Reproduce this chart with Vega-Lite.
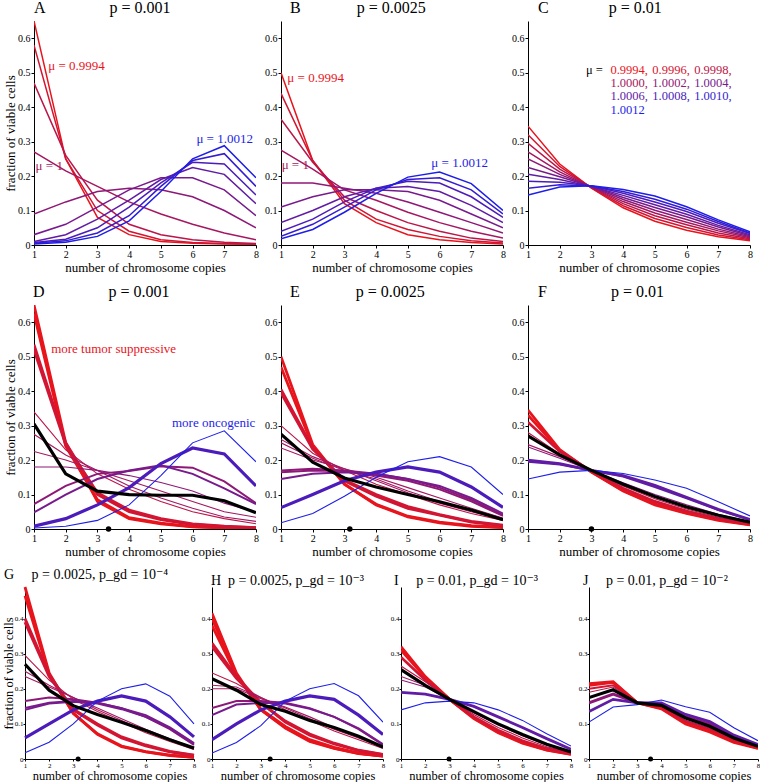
{
"$schema":"https://vega.github.io/schema/vega-lite/v6.json",
"padding":{"left":2,"top":0,"right":0,"bottom":0},
"config":{"font":"Liberation Serif, Times New Roman, DejaVu Serif, serif","view":{"stroke":null},
"axis":{"labelFont":"Liberation Serif, Times New Roman, DejaVu Serif, serif","titleFont":"Liberation Serif, Times New Roman, DejaVu Serif, serif","labelFontSize":10,"titleFontSize":13,"titleFontWeight":"normal","domainColor":"#000","tickColor":"#000","labelColor":"#000","titleColor":"#000","grid":false,"tickSize":3,"labelPadding":1,"titlePadding":2,"labelOverlap":false,"labelFlush":false},
"title":{"font":"Liberation Serif, Times New Roman, DejaVu Serif, serif","fontSize":16,"fontWeight":"normal","anchor":"start","frame":"group","offset":5,"color":"#000"},
"text":{"font":"Liberation Serif, Times New Roman, DejaVu Serif, serif"}},
"datasets":{
"series":[
{"s":"A1","p":"A","c":"m1","w":"n"},{"s":"A2","p":"A","c":"m2","w":"n"},{"s":"A3","p":"A","c":"m3","w":"n"},{"s":"A4","p":"A","c":"m4","w":"n"},{"s":"A5","p":"A","c":"m5","w":"n"},{"s":"A6","p":"A","c":"m6","w":"n"},{"s":"A7","p":"A","c":"m7","w":"n"},{"s":"A8","p":"A","c":"m8","w":"n"},{"s":"A9","p":"A","c":"m9","w":"n"},{"s":"A10","p":"A","c":"m10","w":"n"},
{"s":"B1","p":"B","c":"m1","w":"n"},{"s":"B2","p":"B","c":"m2","w":"n"},{"s":"B3","p":"B","c":"m3","w":"n"},{"s":"B4","p":"B","c":"m4","w":"n"},{"s":"B5","p":"B","c":"m5","w":"n"},{"s":"B6","p":"B","c":"m6","w":"n"},{"s":"B7","p":"B","c":"m7","w":"n"},{"s":"B8","p":"B","c":"m8","w":"n"},{"s":"B9","p":"B","c":"m9","w":"n"},{"s":"B10","p":"B","c":"m10","w":"n"},
{"s":"C1","p":"C","c":"m1","w":"n"},{"s":"C2","p":"C","c":"m2","w":"n"},{"s":"C3","p":"C","c":"m3","w":"n"},{"s":"C4","p":"C","c":"m4","w":"n"},{"s":"C5","p":"C","c":"m5","w":"n"},{"s":"C6","p":"C","c":"m6","w":"n"},{"s":"C7","p":"C","c":"m7","w":"n"},{"s":"C8","p":"C","c":"m8","w":"n"},{"s":"C9","p":"C","c":"m9","w":"n"},{"s":"C10","p":"C","c":"m10","w":"n"},
{"s":"D1","p":"D","c":"m1","w":"k"},{"s":"D2","p":"D","c":"m1","w":"k"},{"s":"D3","p":"D","c":"m2","w":"k"},{"s":"D4","p":"D","c":"m2","w":"k"},{"s":"D5","p":"D","c":"m3","w":"t"},{"s":"D6","p":"D","c":"m4","w":"t"},{"s":"D7","p":"D","c":"m4","w":"t"},{"s":"D8","p":"D","c":"m5","w":"t"},{"s":"D9","p":"D","c":"m5","w":"m"},{"s":"D10","p":"D","c":"m6","w":"m"},{"s":"D11","p":"D","c":"m8","w":"x"},{"s":"D12","p":"D","c":"m10","w":"t"},{"s":"D13","p":"D","c":"bk","w":"x"},
{"s":"E1","p":"E","c":"m1","w":"k"},{"s":"E2","p":"E","c":"m1","w":"k"},{"s":"E3","p":"E","c":"m2","w":"k"},{"s":"E4","p":"E","c":"m2","w":"k"},{"s":"E5","p":"E","c":"m3","w":"t"},{"s":"E6","p":"E","c":"m4","w":"t"},{"s":"E7","p":"E","c":"m4","w":"t"},{"s":"E8","p":"E","c":"m4","w":"t"},{"s":"E9","p":"E","c":"m5","w":"m"},{"s":"E10","p":"E","c":"m5","w":"m"},{"s":"E11","p":"E","c":"m6","w":"m"},{"s":"E12","p":"E","c":"m8","w":"x"},{"s":"E13","p":"E","c":"m10","w":"t"},{"s":"E14","p":"E","c":"bk","w":"x"},
{"s":"F1","p":"F","c":"m1","w":"k"},{"s":"F2","p":"F","c":"m1","w":"k"},{"s":"F3","p":"F","c":"m2","w":"k"},{"s":"F4","p":"F","c":"m3","w":"t"},{"s":"F5","p":"F","c":"m4","w":"t"},{"s":"F6","p":"F","c":"m5","w":"t"},{"s":"F8","p":"F","c":"m7","w":"k"},{"s":"F9","p":"F","c":"m7","w":"m"},{"s":"F10","p":"F","c":"m10","w":"t"},{"s":"F7","p":"F","c":"bk","w":"x"},
{"s":"G1","p":"G","c":"m1","w":"k"},{"s":"G2","p":"G","c":"m1","w":"k"},{"s":"G3","p":"G","c":"m2","w":"k"},{"s":"G4","p":"G","c":"m2","w":"k"},{"s":"G5","p":"G","c":"m3","w":"t"},{"s":"G6","p":"G","c":"m4","w":"t"},{"s":"G7","p":"G","c":"m4","w":"t"},{"s":"G8","p":"G","c":"m5","w":"m"},{"s":"G9","p":"G","c":"m6","w":"m"},{"s":"G10","p":"G","c":"m6","w":"m"},{"s":"G11","p":"G","c":"m8","w":"x"},{"s":"G12","p":"G","c":"m10","w":"t"},{"s":"G13","p":"G","c":"bk","w":"x"},
{"s":"H1","p":"H","c":"m1","w":"k"},{"s":"H2","p":"H","c":"m1","w":"k"},{"s":"H3","p":"H","c":"m1","w":"k"},{"s":"H4","p":"H","c":"m2","w":"k"},{"s":"H5","p":"H","c":"m2","w":"k"},{"s":"H6","p":"H","c":"m3","w":"t"},{"s":"H7","p":"H","c":"m4","w":"t"},{"s":"H8","p":"H","c":"m4","w":"t"},{"s":"H9","p":"H","c":"m5","w":"m"},{"s":"H10","p":"H","c":"m6","w":"m"},{"s":"H11","p":"H","c":"m8","w":"x"},{"s":"H12","p":"H","c":"m10","w":"t"},{"s":"H13","p":"H","c":"bk","w":"x"},
{"s":"I1","p":"I","c":"m1","w":"k"},{"s":"I2","p":"I","c":"m1","w":"k"},{"s":"I3","p":"I","c":"m2","w":"k"},{"s":"I4","p":"I","c":"m3","w":"t"},{"s":"I5","p":"I","c":"m4","w":"t"},{"s":"I6","p":"I","c":"m5","w":"t"},{"s":"I8","p":"I","c":"m7","w":"k"},{"s":"I9","p":"I","c":"m10","w":"t"},{"s":"I7","p":"I","c":"bk","w":"x"},
{"s":"J1","p":"J","c":"m1","w":"k"},{"s":"J2","p":"J","c":"m1","w":"k"},{"s":"J3","p":"J","c":"m2","w":"m"},{"s":"J4","p":"J","c":"m3","w":"t"},{"s":"J6","p":"J","c":"m5","w":"k"},{"s":"J7","p":"J","c":"m7","w":"k"},{"s":"J8","p":"J","c":"m10","w":"t"},{"s":"J5","p":"J","c":"bk","w":"x"}
],
"curves":[
{"s":"A1","x":1,"y":0.65},{"s":"A1","x":2,"y":0.25},{"s":"A1","x":3,"y":0.08},{"s":"A1","x":4,"y":0.03},{"s":"A1","x":5,"y":0.01},{"s":"A1","x":6,"y":0.005},{"s":"A1","x":7,"y":0.003},{"s":"A1","x":8,"y":0.002},
{"s":"A2","x":1,"y":0.58},{"s":"A2","x":2,"y":0.25},{"s":"A2","x":3,"y":0.1},{"s":"A2","x":4,"y":0.04},{"s":"A2","x":5,"y":0.015},{"s":"A2","x":6,"y":0.007},{"s":"A2","x":7,"y":0.004},{"s":"A2","x":8,"y":0.002},
{"s":"A3","x":1,"y":0.47},{"s":"A3","x":2,"y":0.26},{"s":"A3","x":3,"y":0.13},{"s":"A3","x":4,"y":0.06},{"s":"A3","x":5,"y":0.03},{"s":"A3","x":6,"y":0.015},{"s":"A3","x":7,"y":0.008},{"s":"A3","x":8,"y":0.004},
{"s":"A4","x":1,"y":0.27},{"s":"A4","x":2,"y":0.215},{"s":"A4","x":3,"y":0.17},{"s":"A4","x":4,"y":0.125},{"s":"A4","x":5,"y":0.09},{"s":"A4","x":6,"y":0.06},{"s":"A4","x":7,"y":0.035},{"s":"A4","x":8,"y":0.015},
{"s":"A5","x":1,"y":0.09},{"s":"A5","x":2,"y":0.125},{"s":"A5","x":3,"y":0.155},{"s":"A5","x":4,"y":0.165},{"s":"A5","x":5,"y":0.16},{"s":"A5","x":6,"y":0.14},{"s":"A5","x":7,"y":0.1},{"s":"A5","x":8,"y":0.05},
{"s":"A6","x":1,"y":0.03},{"s":"A6","x":2,"y":0.06},{"s":"A6","x":3,"y":0.11},{"s":"A6","x":4,"y":0.16},{"s":"A6","x":5,"y":0.195},{"s":"A6","x":6,"y":0.195},{"s":"A6","x":7,"y":0.16},{"s":"A6","x":8,"y":0.085},
{"s":"A7","x":1,"y":0.01},{"s":"A7","x":2,"y":0.03},{"s":"A7","x":3,"y":0.075},{"s":"A7","x":4,"y":0.13},{"s":"A7","x":5,"y":0.19},{"s":"A7","x":6,"y":0.225},{"s":"A7","x":7,"y":0.205},{"s":"A7","x":8,"y":0.12},
{"s":"A8","x":1,"y":0.007},{"s":"A8","x":2,"y":0.017},{"s":"A8","x":3,"y":0.05},{"s":"A8","x":4,"y":0.11},{"s":"A8","x":5,"y":0.18},{"s":"A8","x":6,"y":0.24},{"s":"A8","x":7,"y":0.235},{"s":"A8","x":8,"y":0.145},
{"s":"A9","x":1,"y":0.005},{"s":"A9","x":2,"y":0.012},{"s":"A9","x":3,"y":0.035},{"s":"A9","x":4,"y":0.085},{"s":"A9","x":5,"y":0.17},{"s":"A9","x":6,"y":0.245},{"s":"A9","x":7,"y":0.265},{"s":"A9","x":8,"y":0.17},
{"s":"A10","x":1,"y":0.003},{"s":"A10","x":2,"y":0.008},{"s":"A10","x":3,"y":0.025},{"s":"A10","x":4,"y":0.07},{"s":"A10","x":5,"y":0.155},{"s":"A10","x":6,"y":0.25},{"s":"A10","x":7,"y":0.288},{"s":"A10","x":8,"y":0.195},
{"s":"B1","x":1,"y":0.5},{"s":"B1","x":2,"y":0.245},{"s":"B1","x":3,"y":0.12},{"s":"B1","x":4,"y":0.065},{"s":"B1","x":5,"y":0.03},{"s":"B1","x":6,"y":0.015},{"s":"B1","x":7,"y":0.007},{"s":"B1","x":8,"y":0.003},
{"s":"B2","x":1,"y":0.44},{"s":"B2","x":2,"y":0.245},{"s":"B2","x":3,"y":0.13},{"s":"B2","x":4,"y":0.075},{"s":"B2","x":5,"y":0.045},{"s":"B2","x":6,"y":0.025},{"s":"B2","x":7,"y":0.012},{"s":"B2","x":8,"y":0.006},
{"s":"B3","x":1,"y":0.365},{"s":"B3","x":2,"y":0.24},{"s":"B3","x":3,"y":0.14},{"s":"B3","x":4,"y":0.1},{"s":"B3","x":5,"y":0.065},{"s":"B3","x":6,"y":0.04},{"s":"B3","x":7,"y":0.02},{"s":"B3","x":8,"y":0.01},
{"s":"B4","x":1,"y":0.275},{"s":"B4","x":2,"y":0.22},{"s":"B4","x":3,"y":0.16},{"s":"B4","x":4,"y":0.13},{"s":"B4","x":5,"y":0.095},{"s":"B4","x":6,"y":0.065},{"s":"B4","x":7,"y":0.04},{"s":"B4","x":8,"y":0.02},
{"s":"B5","x":1,"y":0.18},{"s":"B5","x":2,"y":0.18},{"s":"B5","x":3,"y":0.165},{"s":"B5","x":4,"y":0.15},{"s":"B5","x":5,"y":0.125},{"s":"B5","x":6,"y":0.095},{"s":"B5","x":7,"y":0.065},{"s":"B5","x":8,"y":0.035},
{"s":"B6","x":1,"y":0.11},{"s":"B6","x":2,"y":0.14},{"s":"B6","x":3,"y":0.16},{"s":"B6","x":4,"y":0.16},{"s":"B6","x":5,"y":0.155},{"s":"B6","x":6,"y":0.13},{"s":"B6","x":7,"y":0.09},{"s":"B6","x":8,"y":0.05},
{"s":"B7","x":1,"y":0.065},{"s":"B7","x":2,"y":0.1},{"s":"B7","x":3,"y":0.14},{"s":"B7","x":4,"y":0.165},{"s":"B7","x":5,"y":0.17},{"s":"B7","x":6,"y":0.155},{"s":"B7","x":7,"y":0.115},{"s":"B7","x":8,"y":0.065},
{"s":"B8","x":1,"y":0.04},{"s":"B8","x":2,"y":0.075},{"s":"B8","x":3,"y":0.125},{"s":"B8","x":4,"y":0.165},{"s":"B8","x":5,"y":0.185},{"s":"B8","x":6,"y":0.18},{"s":"B8","x":7,"y":0.14},{"s":"B8","x":8,"y":0.08},
{"s":"B9","x":1,"y":0.025},{"s":"B9","x":2,"y":0.06},{"s":"B9","x":3,"y":0.11},{"s":"B9","x":4,"y":0.16},{"s":"B9","x":5,"y":0.19},{"s":"B9","x":6,"y":0.195},{"s":"B9","x":7,"y":0.16},{"s":"B9","x":8,"y":0.09},
{"s":"B10","x":1,"y":0.018},{"s":"B10","x":2,"y":0.045},{"s":"B10","x":3,"y":0.095},{"s":"B10","x":4,"y":0.15},{"s":"B10","x":5,"y":0.197},{"s":"B10","x":6,"y":0.212},{"s":"B10","x":7,"y":0.178},{"s":"B10","x":8,"y":0.1},
{"s":"C1","x":1,"y":0.345},{"s":"C1","x":2,"y":0.235},{"s":"C1","x":3,"y":0.165},{"s":"C1","x":4,"y":0.108},{"s":"C1","x":5,"y":0.069},{"s":"C1","x":6,"y":0.043},{"s":"C1","x":7,"y":0.024},{"s":"C1","x":8,"y":0.012},
{"s":"C2","x":1,"y":0.32},{"s":"C2","x":2,"y":0.228},{"s":"C2","x":3,"y":0.166},{"s":"C2","x":4,"y":0.114},{"s":"C2","x":5,"y":0.077},{"s":"C2","x":6,"y":0.051},{"s":"C2","x":7,"y":0.029},{"s":"C2","x":8,"y":0.015},
{"s":"C3","x":1,"y":0.295},{"s":"C3","x":2,"y":0.22},{"s":"C3","x":3,"y":0.167},{"s":"C3","x":4,"y":0.12},{"s":"C3","x":5,"y":0.085},{"s":"C3","x":6,"y":0.059},{"s":"C3","x":7,"y":0.035},{"s":"C3","x":8,"y":0.018},
{"s":"C4","x":1,"y":0.27},{"s":"C4","x":2,"y":0.212},{"s":"C4","x":3,"y":0.168},{"s":"C4","x":4,"y":0.126},{"s":"C4","x":5,"y":0.093},{"s":"C4","x":6,"y":0.066},{"s":"C4","x":7,"y":0.041},{"s":"C4","x":8,"y":0.021},
{"s":"C5","x":1,"y":0.25},{"s":"C5","x":2,"y":0.205},{"s":"C5","x":3,"y":0.169},{"s":"C5","x":4,"y":0.132},{"s":"C5","x":5,"y":0.101},{"s":"C5","x":6,"y":0.074},{"s":"C5","x":7,"y":0.046},{"s":"C5","x":8,"y":0.024},
{"s":"C6","x":1,"y":0.225},{"s":"C6","x":2,"y":0.198},{"s":"C6","x":3,"y":0.17},{"s":"C6","x":4,"y":0.138},{"s":"C6","x":5,"y":0.109},{"s":"C6","x":6,"y":0.082},{"s":"C6","x":7,"y":0.052},{"s":"C6","x":8,"y":0.027},
{"s":"C7","x":1,"y":0.205},{"s":"C7","x":2,"y":0.19},{"s":"C7","x":3,"y":0.17},{"s":"C7","x":4,"y":0.144},{"s":"C7","x":5,"y":0.117},{"s":"C7","x":6,"y":0.089},{"s":"C7","x":7,"y":0.057},{"s":"C7","x":8,"y":0.03},
{"s":"C8","x":1,"y":0.185},{"s":"C8","x":2,"y":0.182},{"s":"C8","x":3,"y":0.171},{"s":"C8","x":4,"y":0.15},{"s":"C8","x":5,"y":0.125},{"s":"C8","x":6,"y":0.097},{"s":"C8","x":7,"y":0.063},{"s":"C8","x":8,"y":0.033},
{"s":"C9","x":1,"y":0.165},{"s":"C9","x":2,"y":0.175},{"s":"C9","x":3,"y":0.171},{"s":"C9","x":4,"y":0.155},{"s":"C9","x":5,"y":0.133},{"s":"C9","x":6,"y":0.104},{"s":"C9","x":7,"y":0.068},{"s":"C9","x":8,"y":0.035},
{"s":"C10","x":1,"y":0.145},{"s":"C10","x":2,"y":0.168},{"s":"C10","x":3,"y":0.172},{"s":"C10","x":4,"y":0.161},{"s":"C10","x":5,"y":0.142},{"s":"C10","x":6,"y":0.111},{"s":"C10","x":7,"y":0.073},{"s":"C10","x":8,"y":0.038},
{"s":"D1","x":1,"y":0.65},{"s":"D1","x":2,"y":0.25},{"s":"D1","x":3,"y":0.08},{"s":"D1","x":4,"y":0.03},{"s":"D1","x":5,"y":0.015},{"s":"D1","x":6,"y":0.006},{"s":"D1","x":7,"y":0.003},{"s":"D1","x":8,"y":0.002},
{"s":"D2","x":1,"y":0.625},{"s":"D2","x":2,"y":0.24},{"s":"D2","x":3,"y":0.085},{"s":"D2","x":4,"y":0.033},{"s":"D2","x":5,"y":0.017},{"s":"D2","x":6,"y":0.007},{"s":"D2","x":7,"y":0.004},{"s":"D2","x":8,"y":0.002},
{"s":"D3","x":1,"y":0.535},{"s":"D3","x":2,"y":0.25},{"s":"D3","x":3,"y":0.1},{"s":"D3","x":4,"y":0.05},{"s":"D3","x":5,"y":0.027},{"s":"D3","x":6,"y":0.013},{"s":"D3","x":7,"y":0.007},{"s":"D3","x":8,"y":0.004},
{"s":"D4","x":1,"y":0.52},{"s":"D4","x":2,"y":0.245},{"s":"D4","x":3,"y":0.105},{"s":"D4","x":4,"y":0.055},{"s":"D4","x":5,"y":0.03},{"s":"D4","x":6,"y":0.015},{"s":"D4","x":7,"y":0.008},{"s":"D4","x":8,"y":0.004},
{"s":"D5","x":1,"y":0.34},{"s":"D5","x":2,"y":0.23},{"s":"D5","x":3,"y":0.16},{"s":"D5","x":4,"y":0.115},{"s":"D5","x":5,"y":0.08},{"s":"D5","x":6,"y":0.05},{"s":"D5","x":7,"y":0.03},{"s":"D5","x":8,"y":0.015},
{"s":"D6","x":1,"y":0.275},{"s":"D6","x":2,"y":0.215},{"s":"D6","x":3,"y":0.17},{"s":"D6","x":4,"y":0.125},{"s":"D6","x":5,"y":0.09},{"s":"D6","x":6,"y":0.06},{"s":"D6","x":7,"y":0.035},{"s":"D6","x":8,"y":0.022},
{"s":"D7","x":1,"y":0.225},{"s":"D7","x":2,"y":0.2},{"s":"D7","x":3,"y":0.17},{"s":"D7","x":4,"y":0.14},{"s":"D7","x":5,"y":0.11},{"s":"D7","x":6,"y":0.08},{"s":"D7","x":7,"y":0.05},{"s":"D7","x":8,"y":0.034},
{"s":"D8","x":1,"y":0.18},{"s":"D8","x":2,"y":0.18},{"s":"D8","x":3,"y":0.17},{"s":"D8","x":4,"y":0.155},{"s":"D8","x":5,"y":0.135},{"s":"D8","x":6,"y":0.11},{"s":"D8","x":7,"y":0.075},{"s":"D8","x":8,"y":0.049},
{"s":"D9","x":1,"y":0.072},{"s":"D9","x":2,"y":0.125},{"s":"D9","x":3,"y":0.16},{"s":"D9","x":4,"y":0.168},{"s":"D9","x":5,"y":0.182},{"s":"D9","x":6,"y":0.178},{"s":"D9","x":7,"y":0.138},{"s":"D9","x":8,"y":0.075},
{"s":"D10","x":1,"y":0.048},{"s":"D10","x":2,"y":0.1},{"s":"D10","x":3,"y":0.145},{"s":"D10","x":4,"y":0.17},{"s":"D10","x":5,"y":0.185},{"s":"D10","x":6,"y":0.16},{"s":"D10","x":7,"y":0.118},{"s":"D10","x":8,"y":0.072},
{"s":"D11","x":1,"y":0.008},{"s":"D11","x":2,"y":0.03},{"s":"D11","x":3,"y":0.07},{"s":"D11","x":4,"y":0.12},{"s":"D11","x":5,"y":0.19},{"s":"D11","x":6,"y":0.235},{"s":"D11","x":7,"y":0.218},{"s":"D11","x":8,"y":0.125},
{"s":"D12","x":1,"y":0.003},{"s":"D12","x":2,"y":0.008},{"s":"D12","x":3,"y":0.025},{"s":"D12","x":4,"y":0.07},{"s":"D12","x":5,"y":0.155},{"s":"D12","x":6,"y":0.25},{"s":"D12","x":7,"y":0.285},{"s":"D12","x":8,"y":0.195},
{"s":"D13","x":1,"y":0.305},{"s":"D13","x":2,"y":0.16},{"s":"D13","x":3,"y":0.11},{"s":"D13","x":4,"y":0.1},{"s":"D13","x":5,"y":0.098},{"s":"D13","x":6,"y":0.098},{"s":"D13","x":7,"y":0.082},{"s":"D13","x":8,"y":0.047},
{"s":"E1","x":1,"y":0.5},{"s":"E1","x":2,"y":0.245},{"s":"E1","x":3,"y":0.13},{"s":"E1","x":4,"y":0.07},{"s":"E1","x":5,"y":0.035},{"s":"E1","x":6,"y":0.018},{"s":"E1","x":7,"y":0.008},{"s":"E1","x":8,"y":0.004},
{"s":"E2","x":1,"y":0.47},{"s":"E2","x":2,"y":0.24},{"s":"E2","x":3,"y":0.13},{"s":"E2","x":4,"y":0.072},{"s":"E2","x":5,"y":0.037},{"s":"E2","x":6,"y":0.02},{"s":"E2","x":7,"y":0.01},{"s":"E2","x":8,"y":0.005},
{"s":"E3","x":1,"y":0.405},{"s":"E3","x":2,"y":0.235},{"s":"E3","x":3,"y":0.14},{"s":"E3","x":4,"y":0.095},{"s":"E3","x":5,"y":0.06},{"s":"E3","x":6,"y":0.04},{"s":"E3","x":7,"y":0.02},{"s":"E3","x":8,"y":0.01},
{"s":"E4","x":1,"y":0.395},{"s":"E4","x":2,"y":0.232},{"s":"E4","x":3,"y":0.142},{"s":"E4","x":4,"y":0.1},{"s":"E4","x":5,"y":0.065},{"s":"E4","x":6,"y":0.042},{"s":"E4","x":7,"y":0.022},{"s":"E4","x":8,"y":0.011},
{"s":"E5","x":1,"y":0.3},{"s":"E5","x":2,"y":0.22},{"s":"E5","x":3,"y":0.17},{"s":"E5","x":4,"y":0.13},{"s":"E5","x":5,"y":0.1},{"s":"E5","x":6,"y":0.07},{"s":"E5","x":7,"y":0.045},{"s":"E5","x":8,"y":0.025},
{"s":"E6","x":1,"y":0.26},{"s":"E6","x":2,"y":0.21},{"s":"E6","x":3,"y":0.175},{"s":"E6","x":4,"y":0.14},{"s":"E6","x":5,"y":0.105},{"s":"E6","x":6,"y":0.075},{"s":"E6","x":7,"y":0.05},{"s":"E6","x":8,"y":0.028},
{"s":"E7","x":1,"y":0.25},{"s":"E7","x":2,"y":0.205},{"s":"E7","x":3,"y":0.17},{"s":"E7","x":4,"y":0.145},{"s":"E7","x":5,"y":0.11},{"s":"E7","x":6,"y":0.08},{"s":"E7","x":7,"y":0.055},{"s":"E7","x":8,"y":0.03},
{"s":"E8","x":1,"y":0.235},{"s":"E8","x":2,"y":0.2},{"s":"E8","x":3,"y":0.175},{"s":"E8","x":4,"y":0.15},{"s":"E8","x":5,"y":0.12},{"s":"E8","x":6,"y":0.09},{"s":"E8","x":7,"y":0.06},{"s":"E8","x":8,"y":0.032},
{"s":"E9","x":1,"y":0.17},{"s":"E9","x":2,"y":0.175},{"s":"E9","x":3,"y":0.17},{"s":"E9","x":4,"y":0.16},{"s":"E9","x":5,"y":0.145},{"s":"E9","x":6,"y":0.12},{"s":"E9","x":7,"y":0.085},{"s":"E9","x":8,"y":0.04},
{"s":"E10","x":1,"y":0.165},{"s":"E10","x":2,"y":0.17},{"s":"E10","x":3,"y":0.168},{"s":"E10","x":4,"y":0.155},{"s":"E10","x":5,"y":0.14},{"s":"E10","x":6,"y":0.115},{"s":"E10","x":7,"y":0.08},{"s":"E10","x":8,"y":0.038},
{"s":"E11","x":1,"y":0.145},{"s":"E11","x":2,"y":0.16},{"s":"E11","x":3,"y":0.165},{"s":"E11","x":4,"y":0.16},{"s":"E11","x":5,"y":0.145},{"s":"E11","x":6,"y":0.125},{"s":"E11","x":7,"y":0.09},{"s":"E11","x":8,"y":0.045},
{"s":"E12","x":1,"y":0.062},{"s":"E12","x":2,"y":0.1},{"s":"E12","x":3,"y":0.14},{"s":"E12","x":4,"y":0.165},{"s":"E12","x":5,"y":0.18},{"s":"E12","x":6,"y":0.165},{"s":"E12","x":7,"y":0.122},{"s":"E12","x":8,"y":0.063},
{"s":"E13","x":1,"y":0.018},{"s":"E13","x":2,"y":0.045},{"s":"E13","x":3,"y":0.095},{"s":"E13","x":4,"y":0.15},{"s":"E13","x":5,"y":0.195},{"s":"E13","x":6,"y":0.21},{"s":"E13","x":7,"y":0.18},{"s":"E13","x":8,"y":0.1},
{"s":"E14","x":1,"y":0.275},{"s":"E14","x":2,"y":0.194},{"s":"E14","x":3,"y":0.148},{"s":"E14","x":4,"y":0.122},{"s":"E14","x":5,"y":0.1},{"s":"E14","x":6,"y":0.079},{"s":"E14","x":7,"y":0.055},{"s":"E14","x":8,"y":0.027},
{"s":"F1","x":1,"y":0.345},{"s":"F1","x":2,"y":0.23},{"s":"F1","x":3,"y":0.165},{"s":"F1","x":4,"y":0.11},{"s":"F1","x":5,"y":0.07},{"s":"F1","x":6,"y":0.045},{"s":"F1","x":7,"y":0.025},{"s":"F1","x":8,"y":0.012},
{"s":"F2","x":1,"y":0.33},{"s":"F2","x":2,"y":0.228},{"s":"F2","x":3,"y":0.166},{"s":"F2","x":4,"y":0.112},{"s":"F2","x":5,"y":0.073},{"s":"F2","x":6,"y":0.047},{"s":"F2","x":7,"y":0.027},{"s":"F2","x":8,"y":0.013},
{"s":"F3","x":1,"y":0.31},{"s":"F3","x":2,"y":0.225},{"s":"F3","x":3,"y":0.168},{"s":"F3","x":4,"y":0.118},{"s":"F3","x":5,"y":0.08},{"s":"F3","x":6,"y":0.052},{"s":"F3","x":7,"y":0.03},{"s":"F3","x":8,"y":0.015},
{"s":"F4","x":1,"y":0.28},{"s":"F4","x":2,"y":0.218},{"s":"F4","x":3,"y":0.17},{"s":"F4","x":4,"y":0.125},{"s":"F4","x":5,"y":0.088},{"s":"F4","x":6,"y":0.058},{"s":"F4","x":7,"y":0.034},{"s":"F4","x":8,"y":0.017},
{"s":"F5","x":1,"y":0.245},{"s":"F5","x":2,"y":0.21},{"s":"F5","x":3,"y":0.17},{"s":"F5","x":4,"y":0.13},{"s":"F5","x":5,"y":0.095},{"s":"F5","x":6,"y":0.065},{"s":"F5","x":7,"y":0.04},{"s":"F5","x":8,"y":0.02},
{"s":"F6","x":1,"y":0.238},{"s":"F6","x":2,"y":0.205},{"s":"F6","x":3,"y":0.17},{"s":"F6","x":4,"y":0.134},{"s":"F6","x":5,"y":0.1},{"s":"F6","x":6,"y":0.07},{"s":"F6","x":7,"y":0.043},{"s":"F6","x":8,"y":0.021},
{"s":"F8","x":1,"y":0.2},{"s":"F8","x":2,"y":0.19},{"s":"F8","x":3,"y":0.17},{"s":"F8","x":4,"y":0.155},{"s":"F8","x":5,"y":0.127},{"s":"F8","x":6,"y":0.092},{"s":"F8","x":7,"y":0.057},{"s":"F8","x":8,"y":0.028},
{"s":"F9","x":1,"y":0.195},{"s":"F9","x":2,"y":0.187},{"s":"F9","x":3,"y":0.17},{"s":"F9","x":4,"y":0.152},{"s":"F9","x":5,"y":0.122},{"s":"F9","x":6,"y":0.089},{"s":"F9","x":7,"y":0.055},{"s":"F9","x":8,"y":0.027},
{"s":"F10","x":1,"y":0.145},{"s":"F10","x":2,"y":0.165},{"s":"F10","x":3,"y":0.17},{"s":"F10","x":4,"y":0.161},{"s":"F10","x":5,"y":0.142},{"s":"F10","x":6,"y":0.118},{"s":"F10","x":7,"y":0.079},{"s":"F10","x":8,"y":0.038},
{"s":"F7","x":1,"y":0.27},{"s":"F7","x":2,"y":0.215},{"s":"F7","x":3,"y":0.17},{"s":"F7","x":4,"y":0.13},{"s":"F7","x":5,"y":0.094},{"s":"F7","x":6,"y":0.064},{"s":"F7","x":7,"y":0.04},{"s":"F7","x":8,"y":0.02},
{"s":"G1","x":1,"y":0.49},{"s":"G1","x":2,"y":0.245},{"s":"G1","x":3,"y":0.13},{"s":"G1","x":4,"y":0.07},{"s":"G1","x":5,"y":0.035},{"s":"G1","x":6,"y":0.02},{"s":"G1","x":7,"y":0.01},{"s":"G1","x":8,"y":0.005},
{"s":"G2","x":1,"y":0.465},{"s":"G2","x":2,"y":0.24},{"s":"G2","x":3,"y":0.13},{"s":"G2","x":4,"y":0.072},{"s":"G2","x":5,"y":0.037},{"s":"G2","x":6,"y":0.021},{"s":"G2","x":7,"y":0.011},{"s":"G2","x":8,"y":0.005},
{"s":"G3","x":1,"y":0.4},{"s":"G3","x":2,"y":0.24},{"s":"G3","x":3,"y":0.14},{"s":"G3","x":4,"y":0.097},{"s":"G3","x":5,"y":0.06},{"s":"G3","x":6,"y":0.037},{"s":"G3","x":7,"y":0.02},{"s":"G3","x":8,"y":0.01},
{"s":"G4","x":1,"y":0.39},{"s":"G4","x":2,"y":0.235},{"s":"G4","x":3,"y":0.142},{"s":"G4","x":4,"y":0.1},{"s":"G4","x":5,"y":0.063},{"s":"G4","x":6,"y":0.04},{"s":"G4","x":7,"y":0.022},{"s":"G4","x":8,"y":0.011},
{"s":"G5","x":1,"y":0.295},{"s":"G5","x":2,"y":0.225},{"s":"G5","x":3,"y":0.17},{"s":"G5","x":4,"y":0.135},{"s":"G5","x":5,"y":0.105},{"s":"G5","x":6,"y":0.075},{"s":"G5","x":7,"y":0.05},{"s":"G5","x":8,"y":0.027},
{"s":"G6","x":1,"y":0.25},{"s":"G6","x":2,"y":0.21},{"s":"G6","x":3,"y":0.175},{"s":"G6","x":4,"y":0.14},{"s":"G6","x":5,"y":0.11},{"s":"G6","x":6,"y":0.08},{"s":"G6","x":7,"y":0.055},{"s":"G6","x":8,"y":0.03},
{"s":"G7","x":1,"y":0.235},{"s":"G7","x":2,"y":0.205},{"s":"G7","x":3,"y":0.175},{"s":"G7","x":4,"y":0.145},{"s":"G7","x":5,"y":0.115},{"s":"G7","x":6,"y":0.085},{"s":"G7","x":7,"y":0.058},{"s":"G7","x":8,"y":0.032},
{"s":"G8","x":1,"y":0.165},{"s":"G8","x":2,"y":0.175},{"s":"G8","x":3,"y":0.17},{"s":"G8","x":4,"y":0.16},{"s":"G8","x":5,"y":0.145},{"s":"G8","x":6,"y":0.12},{"s":"G8","x":7,"y":0.085},{"s":"G8","x":8,"y":0.04},
{"s":"G9","x":1,"y":0.145},{"s":"G9","x":2,"y":0.16},{"s":"G9","x":3,"y":0.165},{"s":"G9","x":4,"y":0.16},{"s":"G9","x":5,"y":0.145},{"s":"G9","x":6,"y":0.125},{"s":"G9","x":7,"y":0.09},{"s":"G9","x":8,"y":0.045},
{"s":"G10","x":1,"y":0.14},{"s":"G10","x":2,"y":0.158},{"s":"G10","x":3,"y":0.163},{"s":"G10","x":4,"y":0.158},{"s":"G10","x":5,"y":0.142},{"s":"G10","x":6,"y":0.12},{"s":"G10","x":7,"y":0.087},{"s":"G10","x":8,"y":0.043},
{"s":"G11","x":1,"y":0.06},{"s":"G11","x":2,"y":0.1},{"s":"G11","x":3,"y":0.14},{"s":"G11","x":4,"y":0.165},{"s":"G11","x":5,"y":0.18},{"s":"G11","x":6,"y":0.165},{"s":"G11","x":7,"y":0.12},{"s":"G11","x":8,"y":0.063},
{"s":"G12","x":1,"y":0.018},{"s":"G12","x":2,"y":0.048},{"s":"G12","x":3,"y":0.1},{"s":"G12","x":4,"y":0.165},{"s":"G12","x":5,"y":0.2},{"s":"G12","x":6,"y":0.214},{"s":"G12","x":7,"y":0.179},{"s":"G12","x":8,"y":0.1},
{"s":"G13","x":1,"y":0.27},{"s":"G13","x":2,"y":0.196},{"s":"G13","x":3,"y":0.152},{"s":"G13","x":4,"y":0.127},{"s":"G13","x":5,"y":0.105},{"s":"G13","x":6,"y":0.081},{"s":"G13","x":7,"y":0.055},{"s":"G13","x":8,"y":0.031},
{"s":"H1","x":1,"y":0.415},{"s":"H1","x":2,"y":0.245},{"s":"H1","x":3,"y":0.14},{"s":"H1","x":4,"y":0.088},{"s":"H1","x":5,"y":0.05},{"s":"H1","x":6,"y":0.03},{"s":"H1","x":7,"y":0.015},{"s":"H1","x":8,"y":0.008},
{"s":"H2","x":1,"y":0.4},{"s":"H2","x":2,"y":0.24},{"s":"H2","x":3,"y":0.14},{"s":"H2","x":4,"y":0.09},{"s":"H2","x":5,"y":0.052},{"s":"H2","x":6,"y":0.031},{"s":"H2","x":7,"y":0.016},{"s":"H2","x":8,"y":0.008},
{"s":"H3","x":1,"y":0.38},{"s":"H3","x":2,"y":0.238},{"s":"H3","x":3,"y":0.142},{"s":"H3","x":4,"y":0.093},{"s":"H3","x":5,"y":0.055},{"s":"H3","x":6,"y":0.033},{"s":"H3","x":7,"y":0.017},{"s":"H3","x":8,"y":0.009},
{"s":"H4","x":1,"y":0.33},{"s":"H4","x":2,"y":0.235},{"s":"H4","x":3,"y":0.16},{"s":"H4","x":4,"y":0.105},{"s":"H4","x":5,"y":0.068},{"s":"H4","x":6,"y":0.043},{"s":"H4","x":7,"y":0.024},{"s":"H4","x":8,"y":0.012},
{"s":"H5","x":1,"y":0.32},{"s":"H5","x":2,"y":0.23},{"s":"H5","x":3,"y":0.16},{"s":"H5","x":4,"y":0.108},{"s":"H5","x":5,"y":0.071},{"s":"H5","x":6,"y":0.045},{"s":"H5","x":7,"y":0.025},{"s":"H5","x":8,"y":0.013},
{"s":"H6","x":1,"y":0.245},{"s":"H6","x":2,"y":0.215},{"s":"H6","x":3,"y":0.175},{"s":"H6","x":4,"y":0.14},{"s":"H6","x":5,"y":0.11},{"s":"H6","x":6,"y":0.08},{"s":"H6","x":7,"y":0.055},{"s":"H6","x":8,"y":0.03},
{"s":"H7","x":1,"y":0.21},{"s":"H7","x":2,"y":0.205},{"s":"H7","x":3,"y":0.175},{"s":"H7","x":4,"y":0.145},{"s":"H7","x":5,"y":0.115},{"s":"H7","x":6,"y":0.085},{"s":"H7","x":7,"y":0.06},{"s":"H7","x":8,"y":0.032},
{"s":"H8","x":1,"y":0.2},{"s":"H8","x":2,"y":0.2},{"s":"H8","x":3,"y":0.172},{"s":"H8","x":4,"y":0.148},{"s":"H8","x":5,"y":0.12},{"s":"H8","x":6,"y":0.09},{"s":"H8","x":7,"y":0.063},{"s":"H8","x":8,"y":0.035},
{"s":"H9","x":1,"y":0.145},{"s":"H9","x":2,"y":0.165},{"s":"H9","x":3,"y":0.165},{"s":"H9","x":4,"y":0.16},{"s":"H9","x":5,"y":0.145},{"s":"H9","x":6,"y":0.12},{"s":"H9","x":7,"y":0.085},{"s":"H9","x":8,"y":0.04},
{"s":"H10","x":1,"y":0.125},{"s":"H10","x":2,"y":0.155},{"s":"H10","x":3,"y":0.16},{"s":"H10","x":4,"y":0.158},{"s":"H10","x":5,"y":0.143},{"s":"H10","x":6,"y":0.12},{"s":"H10","x":7,"y":0.087},{"s":"H10","x":8,"y":0.042},
{"s":"H11","x":1,"y":0.055},{"s":"H11","x":2,"y":0.1},{"s":"H11","x":3,"y":0.14},{"s":"H11","x":4,"y":0.165},{"s":"H11","x":5,"y":0.18},{"s":"H11","x":6,"y":0.17},{"s":"H11","x":7,"y":0.125},{"s":"H11","x":8,"y":0.07},
{"s":"H12","x":1,"y":0.017},{"s":"H12","x":2,"y":0.047},{"s":"H12","x":3,"y":0.095},{"s":"H12","x":4,"y":0.165},{"s":"H12","x":5,"y":0.2},{"s":"H12","x":6,"y":0.215},{"s":"H12","x":7,"y":0.18},{"s":"H12","x":8,"y":0.105},
{"s":"H13","x":1,"y":0.229},{"s":"H13","x":2,"y":0.196},{"s":"H13","x":3,"y":0.155},{"s":"H13","x":4,"y":0.136},{"s":"H13","x":5,"y":0.11},{"s":"H13","x":6,"y":0.09},{"s":"H13","x":7,"y":0.065},{"s":"H13","x":8,"y":0.034},
{"s":"I1","x":1,"y":0.32},{"s":"I1","x":2,"y":0.235},{"s":"I1","x":3,"y":0.17},{"s":"I1","x":4,"y":0.115},{"s":"I1","x":5,"y":0.075},{"s":"I1","x":6,"y":0.045},{"s":"I1","x":7,"y":0.025},{"s":"I1","x":8,"y":0.013},
{"s":"I2","x":1,"y":0.31},{"s":"I2","x":2,"y":0.232},{"s":"I2","x":3,"y":0.17},{"s":"I2","x":4,"y":0.117},{"s":"I2","x":5,"y":0.077},{"s":"I2","x":6,"y":0.047},{"s":"I2","x":7,"y":0.026},{"s":"I2","x":8,"y":0.014},
{"s":"I3","x":1,"y":0.29},{"s":"I3","x":2,"y":0.225},{"s":"I3","x":3,"y":0.17},{"s":"I3","x":4,"y":0.12},{"s":"I3","x":5,"y":0.082},{"s":"I3","x":6,"y":0.052},{"s":"I3","x":7,"y":0.03},{"s":"I3","x":8,"y":0.015},
{"s":"I4","x":1,"y":0.265},{"s":"I4","x":2,"y":0.22},{"s":"I4","x":3,"y":0.17},{"s":"I4","x":4,"y":0.127},{"s":"I4","x":5,"y":0.09},{"s":"I4","x":6,"y":0.06},{"s":"I4","x":7,"y":0.035},{"s":"I4","x":8,"y":0.018},
{"s":"I5","x":1,"y":0.235},{"s":"I5","x":2,"y":0.21},{"s":"I5","x":3,"y":0.17},{"s":"I5","x":4,"y":0.132},{"s":"I5","x":5,"y":0.097},{"s":"I5","x":6,"y":0.066},{"s":"I5","x":7,"y":0.04},{"s":"I5","x":8,"y":0.02},
{"s":"I6","x":1,"y":0.225},{"s":"I6","x":2,"y":0.205},{"s":"I6","x":3,"y":0.17},{"s":"I6","x":4,"y":0.135},{"s":"I6","x":5,"y":0.1},{"s":"I6","x":6,"y":0.07},{"s":"I6","x":7,"y":0.043},{"s":"I6","x":8,"y":0.021},
{"s":"I8","x":1,"y":0.19},{"s":"I8","x":2,"y":0.185},{"s":"I8","x":3,"y":0.17},{"s":"I8","x":4,"y":0.15},{"s":"I8","x":5,"y":0.12},{"s":"I8","x":6,"y":0.09},{"s":"I8","x":7,"y":0.058},{"s":"I8","x":8,"y":0.028},
{"s":"I9","x":1,"y":0.14},{"s":"I9","x":2,"y":0.16},{"s":"I9","x":3,"y":0.165},{"s":"I9","x":4,"y":0.16},{"s":"I9","x":5,"y":0.14},{"s":"I9","x":6,"y":0.11},{"s":"I9","x":7,"y":0.072},{"s":"I9","x":8,"y":0.037},
{"s":"I7","x":1,"y":0.255},{"s":"I7","x":2,"y":0.21},{"s":"I7","x":3,"y":0.17},{"s":"I7","x":4,"y":0.135},{"s":"I7","x":5,"y":0.1},{"s":"I7","x":6,"y":0.07},{"s":"I7","x":7,"y":0.042},{"s":"I7","x":8,"y":0.02},
{"s":"J1","x":1,"y":0.215},{"s":"J1","x":2,"y":0.22},{"s":"J1","x":3,"y":0.16},{"s":"J1","x":4,"y":0.143},{"s":"J1","x":5,"y":0.1},{"s":"J1","x":6,"y":0.077},{"s":"J1","x":7,"y":0.047},{"s":"J1","x":8,"y":0.03},
{"s":"J2","x":1,"y":0.21},{"s":"J2","x":2,"y":0.218},{"s":"J2","x":3,"y":0.16},{"s":"J2","x":4,"y":0.145},{"s":"J2","x":5,"y":0.103},{"s":"J2","x":6,"y":0.08},{"s":"J2","x":7,"y":0.05},{"s":"J2","x":8,"y":0.031},
{"s":"J3","x":1,"y":0.2},{"s":"J3","x":2,"y":0.21},{"s":"J3","x":3,"y":0.16},{"s":"J3","x":4,"y":0.148},{"s":"J3","x":5,"y":0.107},{"s":"J3","x":6,"y":0.085},{"s":"J3","x":7,"y":0.053},{"s":"J3","x":8,"y":0.033},
{"s":"J4","x":1,"y":0.19},{"s":"J4","x":2,"y":0.205},{"s":"J4","x":3,"y":0.16},{"s":"J4","x":4,"y":0.15},{"s":"J4","x":5,"y":0.11},{"s":"J4","x":6,"y":0.088},{"s":"J4","x":7,"y":0.056},{"s":"J4","x":8,"y":0.034},
{"s":"J6","x":1,"y":0.16},{"s":"J6","x":2,"y":0.185},{"s":"J6","x":3,"y":0.16},{"s":"J6","x":4,"y":0.157},{"s":"J6","x":5,"y":0.12},{"s":"J6","x":6,"y":0.1},{"s":"J6","x":7,"y":0.063},{"s":"J6","x":8,"y":0.038},
{"s":"J7","x":1,"y":0.135},{"s":"J7","x":2,"y":0.17},{"s":"J7","x":3,"y":0.16},{"s":"J7","x":4,"y":0.16},{"s":"J7","x":5,"y":0.127},{"s":"J7","x":6,"y":0.107},{"s":"J7","x":7,"y":0.068},{"s":"J7","x":8,"y":0.041},
{"s":"J8","x":1,"y":0.105},{"s":"J8","x":2,"y":0.148},{"s":"J8","x":3,"y":0.155},{"s":"J8","x":4,"y":0.168},{"s":"J8","x":5,"y":0.149},{"s":"J8","x":6,"y":0.133},{"s":"J8","x":7,"y":0.089},{"s":"J8","x":8,"y":0.052},
{"s":"J5","x":1,"y":0.175},{"s":"J5","x":2,"y":0.197},{"s":"J5","x":3,"y":0.16},{"s":"J5","x":4,"y":0.153},{"s":"J5","x":5,"y":0.117},{"s":"J5","x":6,"y":0.093},{"s":"J5","x":7,"y":0.06},{"s":"J5","x":8,"y":0.036}
],
"dots":[{"p":"D","x":3.35,"y":0},{"p":"E","x":3.17,"y":0},{"p":"F","x":3.0,"y":0},{"p":"G","x":3.2,"y":0},{"p":"H","x":3.38,"y":0},{"p":"I","x":2.98,"y":0},{"p":"J","x":3.55,"y":0}],
"notes":[
{"p":"A","x":1.45,"y":0.52,"t":"μ = 0.9994","c":"m1"},{"p":"A","x":1.05,"y":0.228,"t":"μ = 1","c":"m4"},{"p":"A","x":6.12,"y":0.308,"t":"μ = 1.0012","c":"m10"},
{"p":"B","x":1.2,"y":0.485,"t":"μ = 0.9994","c":"m1"},{"p":"B","x":1.02,"y":0.231,"t":"μ = 1","c":"m4"},{"p":"B","x":5.74,"y":0.239,"t":"μ = 1.0012","c":"m10"},
{"p":"C","x":2.83,"y":0.509,"t":"μ =","c":"bk"},
{"p":"C","x":3.6,"y":0.509,"t":"0.9994,","c":"m1"},{"p":"C","x":4.92,"y":0.509,"t":"0.9996,","c":"m2"},{"p":"C","x":6.24,"y":0.509,"t":"0.9998,","c":"m3"},
{"p":"C","x":3.6,"y":0.47,"t":"1.0000,","c":"m4"},{"p":"C","x":4.92,"y":0.47,"t":"1.0002,","c":"m5"},{"p":"C","x":6.24,"y":0.47,"t":"1.0004,","c":"m6"},
{"p":"C","x":3.6,"y":0.432,"t":"1.0006,","c":"m7"},{"p":"C","x":4.92,"y":0.432,"t":"1.0008,","c":"m8"},{"p":"C","x":6.24,"y":0.432,"t":"1.0010,","c":"m9"},
{"p":"C","x":3.6,"y":0.393,"t":"1.0012","c":"m10"},
{"p":"D","x":1.54,"y":0.523,"t":"more tumor suppressive","c":"m1"},{"p":"D","x":5.35,"y":0.309,"t":"more oncogenic","c":"m10"}
]},
"vconcat":[
{"hconcat":[
{"width":222,"height":224,"title":{"text":"A\u00a0\u00a0\u00a0\u00a0\u00a0\u00a0\u00a0\u00a0\u00a0\u00a0\u00a0\u00a0\u00a0\u00a0\u00a0\u00a0p = 0.001","dx":0},
"layer":[
{"data":{"name":"curves"},"transform":[{"lookup":"s","from":{"data":{"name":"series"},"key":"s","fields":["p","c","w"]}},{"filter":"datum.p==='A'"}],"mark":{"type":"line","clip":true},
"encoding":{"x":{"field":"x","type":"quantitative","scale":{"domain":[1,8],"nice":false,"zero":false},"axis":{"values":[1,2,3,4,5,6,7,8],"tickCount":10,"format":"d","title":"number of chromosome copies"}},
"y":{"field":"y","type":"quantitative","scale":{"domain":[0,0.65],"nice":false},"axis":{"values":[0,0.1,0.2,0.3,0.4,0.5,0.6],"tickCount":10,"labelExpr":"datum.value===0?'0':format(datum.value,'.1f')","title":"fraction of viable cells","titlePadding":0}},
"detail":{"field":"s"},
"color":{"field":"c","type":"nominal","scale":{"domain":["m1","m2","m3","m4","m5","m6","m7","m8","m9","m10","bk"],"range":["#e8141c","#d21533","#bb1649","#a51760","#8e1877","#781a8d","#611ba4","#4b1cbb","#341dd1","#1e1ee8","#000000"]},"legend":null},
"strokeWidth":{"field":"w","type":"nominal","scale":{"type":"ordinal","domain":["n","t","m","k","x"],"range":[1.5,1.1,2,2.8,3.2]},"legend":null}}},
{"data":{"name":"notes"},"transform":[{"filter":"datum.p==='A'"}],"mark":{"type":"text","align":"left","baseline":"middle","fontSize":13},
"encoding":{"x":{"field":"x","type":"quantitative"},"y":{"field":"y","type":"quantitative"},"text":{"field":"t"},"color":{"field":"c","type":"nominal","legend":null}}}
]},
{"width":222,"height":224,"title":{"text":"B\u00a0\u00a0\u00a0\u00a0\u00a0\u00a0\u00a0\u00a0\u00a0\u00a0\u00a0\u00a0\u00a0\u00a0p = 0.0025","dx":9},
"layer":[
{"data":{"name":"curves"},"transform":[{"lookup":"s","from":{"data":{"name":"series"},"key":"s","fields":["p","c","w"]}},{"filter":"datum.p==='B'"}],"mark":{"type":"line","clip":true},
"encoding":{"x":{"field":"x","type":"quantitative","scale":{"domain":[1,8],"nice":false,"zero":false},"axis":{"values":[1,2,3,4,5,6,7,8],"tickCount":10,"format":"d","title":"number of chromosome copies"}},
"y":{"field":"y","type":"quantitative","scale":{"domain":[0,0.65],"nice":false},"axis":{"values":[0,0.1,0.2,0.3,0.4,0.5,0.6],"tickCount":10,"labelExpr":"datum.value===0?'0':format(datum.value,'.1f')","title":null}},
"detail":{"field":"s"},
"color":{"field":"c","type":"nominal","legend":null},
"strokeWidth":{"field":"w","type":"nominal","scale":{"type":"ordinal","domain":["n","t","m","k","x"],"range":[1.5,1.1,2,2.8,3.2]},"legend":null}}},
{"data":{"name":"notes"},"transform":[{"filter":"datum.p==='B'"}],"mark":{"type":"text","align":"left","baseline":"middle","fontSize":13},
"encoding":{"x":{"field":"x","type":"quantitative"},"y":{"field":"y","type":"quantitative"},"text":{"field":"t"},"color":{"field":"c","type":"nominal","legend":null}}}
]},
{"width":222,"height":224,"title":{"text":"C\u00a0\u00a0\u00a0\u00a0\u00a0\u00a0\u00a0\u00a0\u00a0\u00a0\u00a0\u00a0\u00a0\u00a0\u00a0p = 0.01","dx":10},
"layer":[
{"data":{"name":"curves"},"transform":[{"lookup":"s","from":{"data":{"name":"series"},"key":"s","fields":["p","c","w"]}},{"filter":"datum.p==='C'"}],"mark":{"type":"line","clip":true},
"encoding":{"x":{"field":"x","type":"quantitative","scale":{"domain":[1,8],"nice":false,"zero":false},"axis":{"values":[1,2,3,4,5,6,7,8],"tickCount":10,"format":"d","title":"number of chromosome copies"}},
"y":{"field":"y","type":"quantitative","scale":{"domain":[0,0.65],"nice":false},"axis":{"values":[0,0.1,0.2,0.3,0.4,0.5,0.6],"tickCount":10,"labelExpr":"datum.value===0?'0':format(datum.value,'.1f')","title":null}},
"detail":{"field":"s"},
"color":{"field":"c","type":"nominal","legend":null},
"strokeWidth":{"field":"w","type":"nominal","scale":{"type":"ordinal","domain":["n","t","m","k","x"],"range":[1.5,1.1,2,2.8,3.2]},"legend":null}}},
{"data":{"name":"notes"},"transform":[{"filter":"datum.p==='C'"}],"mark":{"type":"text","align":"left","baseline":"middle","fontSize":12.5},
"encoding":{"x":{"field":"x","type":"quantitative"},"y":{"field":"y","type":"quantitative"},"text":{"field":"t"},"color":{"field":"c","type":"nominal","legend":null}}}
]}
],"spacing":25,"bounds":"flush"},
{"hconcat":[
{"width":222,"height":224,"title":{"text":"D\u00a0\u00a0\u00a0\u00a0\u00a0\u00a0\u00a0\u00a0\u00a0\u00a0\u00a0\u00a0\u00a0\u00a0\u00a0\u00a0p = 0.001","dx":-1},
"layer":[
{"data":{"name":"curves"},"transform":[{"lookup":"s","from":{"data":{"name":"series"},"key":"s","fields":["p","c","w"]}},{"filter":"datum.p==='D'"}],"mark":{"type":"line","clip":true},
"encoding":{"x":{"field":"x","type":"quantitative","scale":{"domain":[1,8],"nice":false,"zero":false},"axis":{"values":[1,2,3,4,5,6,7,8],"tickCount":10,"format":"d","title":"number of chromosome copies"}},
"y":{"field":"y","type":"quantitative","scale":{"domain":[0,0.65],"nice":false},"axis":{"values":[0,0.1,0.2,0.3,0.4,0.5,0.6],"tickCount":10,"labelExpr":"datum.value===0?'0':format(datum.value,'.1f')","title":"fraction of viable cells","titlePadding":0}},
"detail":{"field":"s"},
"color":{"field":"c","type":"nominal","legend":null},
"strokeWidth":{"field":"w","type":"nominal","scale":{"type":"ordinal","domain":["n","t","m","k","x"],"range":[1.5,1.1,2,2.8,3.2]},"legend":null}}},
{"data":{"name":"dots"},"transform":[{"filter":"datum.p==='D'"}],"mark":{"type":"point","filled":true,"color":"#000","size":30,"opacity":1},"encoding":{"x":{"field":"x","type":"quantitative"},"y":{"field":"y","type":"quantitative"}}},
{"data":{"name":"notes"},"transform":[{"filter":"datum.p==='D'"}],"mark":{"type":"text","align":"left","baseline":"middle","fontSize":13},
"encoding":{"x":{"field":"x","type":"quantitative"},"y":{"field":"y","type":"quantitative"},"text":{"field":"t"},"color":{"field":"c","type":"nominal","legend":null}}}
]},
{"width":222,"height":224,"title":{"text":"E\u00a0\u00a0\u00a0\u00a0\u00a0\u00a0\u00a0\u00a0\u00a0\u00a0\u00a0\u00a0\u00a0\u00a0p = 0.0025","dx":9},
"layer":[
{"data":{"name":"curves"},"transform":[{"lookup":"s","from":{"data":{"name":"series"},"key":"s","fields":["p","c","w"]}},{"filter":"datum.p==='E'"}],"mark":{"type":"line","clip":true},
"encoding":{"x":{"field":"x","type":"quantitative","scale":{"domain":[1,8],"nice":false,"zero":false},"axis":{"values":[1,2,3,4,5,6,7,8],"tickCount":10,"format":"d","title":"number of chromosome copies"}},
"y":{"field":"y","type":"quantitative","scale":{"domain":[0,0.65],"nice":false},"axis":{"values":[0,0.1,0.2,0.3,0.4,0.5,0.6],"tickCount":10,"labelExpr":"datum.value===0?'0':format(datum.value,'.1f')","title":null}},
"detail":{"field":"s"},
"color":{"field":"c","type":"nominal","legend":null},
"strokeWidth":{"field":"w","type":"nominal","scale":{"type":"ordinal","domain":["n","t","m","k","x"],"range":[1.5,1.1,2,2.8,3.2]},"legend":null}}},
{"data":{"name":"dots"},"transform":[{"filter":"datum.p==='E'"}],"mark":{"type":"point","filled":true,"color":"#000","size":30,"opacity":1},"encoding":{"x":{"field":"x","type":"quantitative"},"y":{"field":"y","type":"quantitative"}}}
]},
{"width":222,"height":224,"title":{"text":"F\u00a0\u00a0\u00a0\u00a0\u00a0\u00a0\u00a0\u00a0\u00a0\u00a0\u00a0\u00a0\u00a0\u00a0\u00a0\u00a0p = 0.01","dx":10},
"layer":[
{"data":{"name":"curves"},"transform":[{"lookup":"s","from":{"data":{"name":"series"},"key":"s","fields":["p","c","w"]}},{"filter":"datum.p==='F'"}],"mark":{"type":"line","clip":true},
"encoding":{"x":{"field":"x","type":"quantitative","scale":{"domain":[1,8],"nice":false,"zero":false},"axis":{"values":[1,2,3,4,5,6,7,8],"tickCount":10,"format":"d","title":"number of chromosome copies"}},
"y":{"field":"y","type":"quantitative","scale":{"domain":[0,0.65],"nice":false},"axis":{"values":[0,0.1,0.2,0.3,0.4,0.5,0.6],"tickCount":10,"labelExpr":"datum.value===0?'0':format(datum.value,'.1f')","title":null}},
"detail":{"field":"s"},
"color":{"field":"c","type":"nominal","legend":null},
"strokeWidth":{"field":"w","type":"nominal","scale":{"type":"ordinal","domain":["n","t","m","k","x"],"range":[1.5,1.1,2,2.8,3.2]},"legend":null}}},
{"data":{"name":"dots"},"transform":[{"filter":"datum.p==='F'"}],"mark":{"type":"point","filled":true,"color":"#000","size":30,"opacity":1},"encoding":{"x":{"field":"x","type":"quantitative"},"y":{"field":"y","type":"quantitative"}}}
]}
],"spacing":25,"bounds":"flush"},
{"hconcat":[
{"width":160,"height":172,"title":{"text":"G\u00a0\u00a0\u00a0\u00a0\u00a0p = 0.0025, p_gd = 10⁻⁴","dx":-30,"fontSize":14,"offset":-1},
"layer":[
{"data":{"name":"curves"},"transform":[{"lookup":"s","from":{"data":{"name":"series"},"key":"s","fields":["p","c","w"]}},{"filter":"datum.p==='G'"}],"mark":{"type":"line","clip":false},
"encoding":{"x":{"field":"x","type":"quantitative","scale":{"domain":[1,8],"nice":false,"zero":false,"range":[-9,160]},"axis":{"values":[1,2,3,4,5,6,7,8],"tickCount":10,"format":"d","labelFontSize":7,"labelPadding":0,"tickSize":2,"titlePadding":1,"titleFontSize":12.5,"title":"number of chromosome copies"}},
"y":{"field":"y","type":"quantitative","scale":{"domain":[0,0.49],"nice":false},"axis":{"values":[0,0.1,0.2,0.3,0.4],"tickCount":10,"offset":9,"labelFontSize":7,"labelPadding":0,"labelExpr":"datum.value===0?'0':format(datum.value,'.1f')","title":"fraction of viable cells","titleFontSize":12.5,"titlePadding":-1,"tickSize":2}},
"detail":{"field":"s"},
"color":{"field":"c","type":"nominal","legend":null},
"strokeWidth":{"field":"w","type":"nominal","scale":{"type":"ordinal","domain":["n","t","m","k","x"],"range":[1.5,1.1,2,2.8,3.2]},"legend":null}}},
{"data":{"name":"dots"},"transform":[{"filter":"datum.p==='G'"}],"mark":{"type":"point","filled":true,"color":"#000","size":25,"opacity":1},"encoding":{"x":{"field":"x","type":"quantitative"},"y":{"field":"y","type":"quantitative"}}}
]},
{"width":171,"height":172,"title":{"text":"H\u00a0\u00a0p = 0.0025, p_gd = 10⁻³","dx":-1,"fontSize":14,"offset":-1},
"layer":[
{"data":{"name":"curves"},"transform":[{"lookup":"s","from":{"data":{"name":"series"},"key":"s","fields":["p","c","w"]}},{"filter":"datum.p==='H'"}],"mark":{"type":"line","clip":true},
"encoding":{"x":{"field":"x","type":"quantitative","scale":{"domain":[1,8],"nice":false,"zero":false},"axis":{"values":[1,2,3,4,5,6,7,8],"tickCount":10,"format":"d","labelFontSize":7,"labelPadding":0,"tickSize":2,"titlePadding":1,"titleFontSize":12.5,"title":"number of chromosome copies"}},
"y":{"field":"y","type":"quantitative","scale":{"domain":[0,0.49],"nice":false},"axis":{"values":[0,0.1,0.2,0.3,0.4],"tickCount":10,"labelFontSize":7,"labelPadding":0,"labelExpr":"datum.value===0?'0':format(datum.value,'.1f')","title":null,"tickSize":2}},
"detail":{"field":"s"},
"color":{"field":"c","type":"nominal","legend":null},
"strokeWidth":{"field":"w","type":"nominal","scale":{"type":"ordinal","domain":["n","t","m","k","x"],"range":[1.5,1.1,2,2.8,3.2]},"legend":null}}},
{"data":{"name":"dots"},"transform":[{"filter":"datum.p==='H'"}],"mark":{"type":"point","filled":true,"color":"#000","size":25,"opacity":1},"encoding":{"x":{"field":"x","type":"quantitative"},"y":{"field":"y","type":"quantitative"}}}
]},
{"width":170,"height":172,"title":{"text":"I\u00a0\u00a0\u00a0\u00a0\u00a0p = 0.01, p_gd = 10⁻³","dx":-7,"fontSize":14,"offset":-1},
"layer":[
{"data":{"name":"curves"},"transform":[{"lookup":"s","from":{"data":{"name":"series"},"key":"s","fields":["p","c","w"]}},{"filter":"datum.p==='I'"}],"mark":{"type":"line","clip":true},
"encoding":{"x":{"field":"x","type":"quantitative","scale":{"domain":[1,8],"nice":false,"zero":false},"axis":{"values":[1,2,3,4,5,6,7,8],"tickCount":10,"format":"d","labelFontSize":7,"labelPadding":0,"tickSize":2,"titlePadding":1,"titleFontSize":12.5,"title":"number of chromosome copies"}},
"y":{"field":"y","type":"quantitative","scale":{"domain":[0,0.49],"nice":false},"axis":{"values":[0,0.1,0.2,0.3,0.4],"tickCount":10,"labelFontSize":7,"labelPadding":0,"labelExpr":"datum.value===0?'0':format(datum.value,'.1f')","title":null,"tickSize":2}},
"detail":{"field":"s"},
"color":{"field":"c","type":"nominal","legend":null},
"strokeWidth":{"field":"w","type":"nominal","scale":{"type":"ordinal","domain":["n","t","m","k","x"],"range":[1.5,1.1,2,2.8,3.2]},"legend":null}}},
{"data":{"name":"dots"},"transform":[{"filter":"datum.p==='I'"}],"mark":{"type":"point","filled":true,"color":"#000","size":25,"opacity":1},"encoding":{"x":{"field":"x","type":"quantitative"},"y":{"field":"y","type":"quantitative"}}}
]},
{"width":169,"height":172,"title":{"text":"J\u00a0\u00a0\u00a0\u00a0\u00a0p = 0.01, p_gd = 10⁻²","dx":-6,"fontSize":14,"offset":-1},
"layer":[
{"data":{"name":"curves"},"transform":[{"lookup":"s","from":{"data":{"name":"series"},"key":"s","fields":["p","c","w"]}},{"filter":"datum.p==='J'"}],"mark":{"type":"line","clip":true},
"encoding":{"x":{"field":"x","type":"quantitative","scale":{"domain":[1,8],"nice":false,"zero":false},"axis":{"values":[1,2,3,4,5,6,7,8],"tickCount":10,"format":"d","labelFontSize":7,"labelPadding":0,"tickSize":2,"titlePadding":1,"titleFontSize":12.5,"title":"number of chromosome copies"}},
"y":{"field":"y","type":"quantitative","scale":{"domain":[0,0.49],"nice":false},"axis":{"values":[0,0.1,0.2,0.3,0.4],"tickCount":10,"labelFontSize":7,"labelPadding":0,"labelExpr":"datum.value===0?'0':format(datum.value,'.1f')","title":null,"tickSize":2}},
"detail":{"field":"s"},
"color":{"field":"c","type":"nominal","legend":null},
"strokeWidth":{"field":"w","type":"nominal","scale":{"type":"ordinal","domain":["n","t","m","k","x"],"range":[1.5,1.1,2,2.8,3.2]},"legend":null}}},
{"data":{"name":"dots"},"transform":[{"filter":"datum.p==='J'"}],"mark":{"type":"point","filled":true,"color":"#000","size":25,"opacity":1},"encoding":{"x":{"field":"x","type":"quantitative"},"y":{"field":"y","type":"quantitative"}}}
]}
],"spacing":18,"bounds":"flush"}
],"spacing":10,
"resolve":{"scale":{"y":"independent"}}
}
